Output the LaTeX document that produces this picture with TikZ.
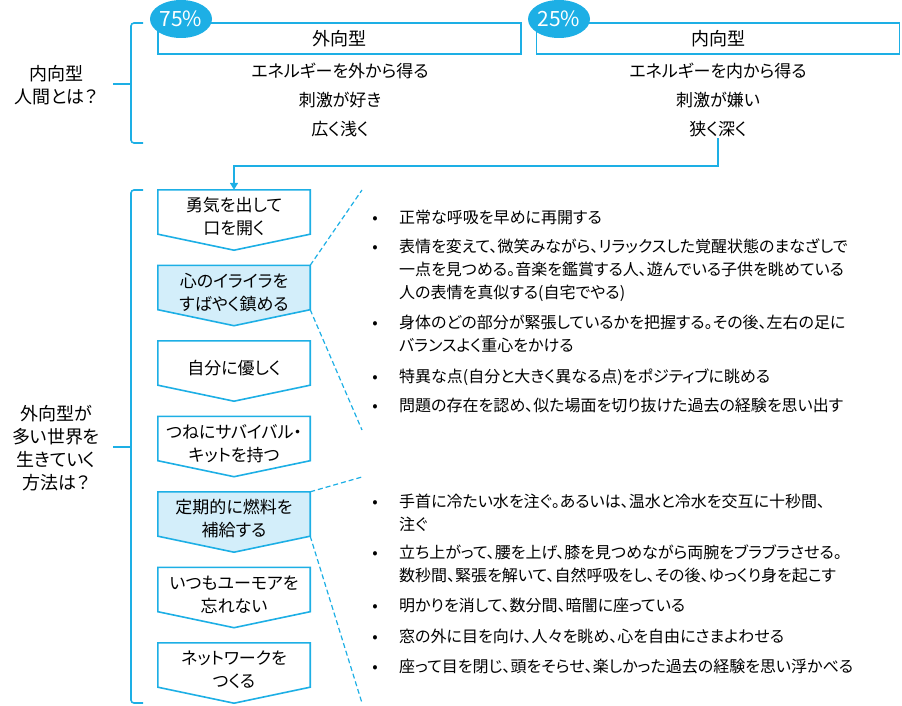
\documentclass[tikz,border=0pt]{standalone}
\usepackage{fontspec}
\setmainfont{Noto Sans CJK JP}[RawFeature={+palt}]
\usepackage{xcolor}
\usetikzlibrary{calc,shapes.geometric,arrows.meta}

\definecolor{skyline}{HTML}{1DAFE5}
\definecolor{skyfill}{HTML}{D3EEFA}

\tikzset{
  jp/.style={font=\fontsize{16}{23}\selectfont, inner sep=1pt},
  jpbig/.style={font=\fontsize{17}{23}\selectfont, inner sep=1pt},
  jplabel/.style={font=\fontsize{18}{23}\selectfont, inner sep=1pt, align=center},
  headbox/.style={draw=skyline, line width=1.6pt, minimum width=363pt, minimum height=31pt, inner sep=0pt, font=\fontsize{18}{23}\selectfont},
  pct/.style={ellipse, fill=skyline, text=white, minimum width=62pt, minimum height=38pt, inner sep=0pt, font=\fontsize{21}{21}\selectfont},
  bracket/.style={draw=skyline, line width=1.6pt, rounded corners=3pt},
  chevron/.style={draw=skyline, line width=1.6pt, line join=miter},
  shell/.style={minimum width=152pt, minimum height=44pt, inner sep=0pt},
  conn/.style={draw=skyline, line width=1.6pt},
  zoomline/.style={draw=skyline, line width=1.2pt, dash pattern=on 5pt off 3pt},
}

\begin{document}
\begin{tikzpicture}[x=1pt, y=-1pt]
    \useasboundingbox (0,0) rectangle (902,706);

    % upper part: the two types
    \draw[bracket] (143,23) -- (131,23) -- (131,143) -- (143,143);
    \draw[bracket] (113,84) -- (131,84);
    \node[jplabel] (whatis) at (56,85) {内向型\\人間とは？};

    \node[headbox] (extro) at (339.5,38.5) {外向型};
    \node[headbox] (intro) at (718,38.5) {内向型};
    \node[pct] (pctex) at (181,19) {75\%};
    \node[pct] (pctin) at (559,19) {25\%};

    \foreach \y/\lt/\rt [count=\k] in {71/エネルギーを外から得る/エネルギーを内から得る,
                                     100/刺激が好き/刺激が嫌い,
                                     129/広く浅く/狭く深く}{
      \node[jpbig] (ex\k) at (340,\y) {\lt};
      \node[jpbig] (in\k) at (718,\y) {\rt};
    }

    % lower part: the seven steps
    \draw[bracket] (143,190) -- (131,190) -- (131,703) -- (143,703);
    \draw[bracket] (113,447) -- (131,447);
    \node[jplabel] (howto) at (56,448) {外向型が\\多い世界を\\生きていく\\方法は？};

    \foreach \name/\txt/\col [count=\i] in {
        courage/{勇気を出して\\口を開く}/white,
        calm/{心のイライラを\\すばやく鎮める}/skyfill,
        kind/{自分に優しく}/white,
        kit/{つねにサバイバル・\\キットを持つ}/white,
        fuel/{定期的に燃料を\\補給する}/skyfill,
        humor/{いつもユーモアを\\忘れない}/white,
        network/{ネットワークを\\つくる}/white}{
      \pgfmathsetmacro{\ry}{212+75.5*(\i-1)}
      \node[shell] (\name) at (234,\ry) {};
      \filldraw[chevron, fill=\col] (\name.north west) -- (\name.north east)
        -- (\name.south east) -- ($(\name.south)+(0,16)$) -- (\name.south west) -- cycle;
      \node[jpbig, align=center] (\name-t) at ($(\name.center)+(0,5)$) {\txt};
    }

    % from the upper part down to the first step
    \coordinate (turn) at (718,166);
    \draw[conn, -{Triangle[length=7pt,width=8pt]}] (in3.south) -- (turn) -| (courage.north);

    % zoom lines to the tips
    \coordinate (calmtop) at (362,190);
    \coordinate (calmbot) at (362,430);
    \coordinate (fueltop) at (362,477);
    \coordinate (fuelbot) at (362,703);
    \draw[zoomline] (calm.north east) -- (calmtop);
    \draw[zoomline] (calm.south east) -- (calmbot);
    \draw[zoomline] (fuel.north east) -- (fueltop);
    \draw[zoomline] (fuel.south east) -- (fuelbot);

    % tips for calming down (y of first baseline / number of lines)
    \foreach \y/\n/\txt [count=\k] in {
        223/1/{正常な呼吸を早めに再開する},
        252/3/{表情を変えて、微笑みながら、リラックスした覚醒状態のまなざしで\\一点を見つめる。音楽を鑑賞する人、遊んでいる子供を眺めている\\人の表情を真似する(自宅でやる)},
        328/2/{身体のどの部分が緊張しているかを把握する。その後、左右の足に\\バランスよく重心をかける},
        382/1/{特異な点(自分と大きく異なる点)をポジティブに眺める},
        411/1/{問題の存在を認め、似た場面を切り抜けた過去の経験を思い出す}}{
      \pgfmathsetmacro{\by}{\y+23*(\n-1)}
      \node[jp, anchor=base] (calmdot\k) at (375,\y) {•};
      \node[jp, anchor=base west, align=left] (calmtip\k) at (398,\by) {\txt};
    }

    % tips for refuelling
    \foreach \y/\n/\txt [count=\k] in {
        507/2/{手首に冷たい水を注ぐ。あるいは、温水と冷水を交互に十秒間、\\注ぐ},
        558/2/{立ち上がって、腰を上げ、膝を見つめながら両腕をブラブラさせる。\\数秒間、緊張を解いて、自然呼吸をし、その後、ゆっくり身を起こす},
        611/1/{明かりを消して、数分間、暗闇に座っている},
        642/1/{窓の外に目を向け、人々を眺め、心を自由にさまよわせる},
        672/1/{座って目を閉じ、頭をそらせ、楽しかった過去の経験を思い浮かべる}}{
      \pgfmathsetmacro{\by}{\y+23*(\n-1)}
      \node[jp, anchor=base] (fueldot\k) at (375,\y) {•};
      \node[jp, anchor=base west, align=left] (fueltip\k) at (398,\by) {\txt};
    }
\end{tikzpicture}
\end{document}
